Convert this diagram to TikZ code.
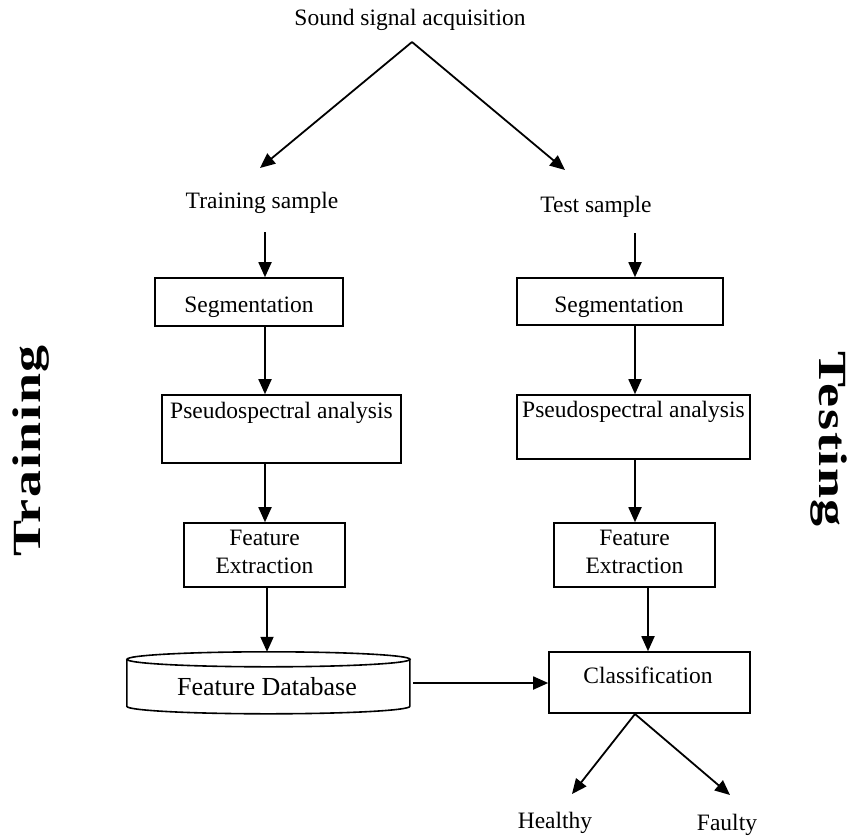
\documentclass[tikz,border=0pt]{standalone}
\usepackage{fontspec}
\setmainfont{Liberation Serif}
\newfontfamily\sidefont[LetterSpace=3]{Liberation Serif}
\usetikzlibrary{arrows.meta}
\begin{document}
\begin{tikzpicture}[x=1pt,y=-1pt,
  box/.style={draw, line width=1.6pt, inner sep=0pt},
  txt/.style={font=\fontsize{23.5}{26}\selectfont, anchor=base, inner sep=0pt},
  arr/.style={line width=1.8pt, -{Triangle[length=15pt,width=13pt]}},
  side/.style={font=\sidefont\fontsize{40}{42}\selectfont\bfseries, inner sep=0pt}]
\useasboundingbox (0,0) rectangle (854,836);
\coordinate (cL) at (265,0);
\coordinate (cL2) at (267,0);
\coordinate (cR) at (635,0);
\coordinate (cR2) at (648,0);

% top
\node[txt] (snd) at (410,25) {Sound signal acquisition};
\coordinate (apex) at (412,42);
\coordinate (tipL) at (260,168);
\coordinate (tipR) at (565,170);
\node[txt] (trs) at (262,208) {Training sample};
\node[txt] (tes) at (596,212) {Test sample};
\draw[arr] (apex) -- (tipL);
\draw[arr] (apex) -- (tipR);

% boxes left
\node[box, minimum width=188pt, minimum height=48pt] (segL) at (249,302) {};
\node[txt] (segLt) at (249,312) {Segmentation};
\node[box, minimum width=239pt, minimum height=68pt] (pseL) at (281.5,429) {};
\node[txt] (pseLt) at (281.5,418) {Pseudospectral analysis};
\node[box, minimum width=161pt, minimum height=64pt] (featL) at (264.5,555) {};
\node[txt] (featLa) at (264.5,545) {Feature};
\node[txt] (featLb) at (264.5,573) {Extraction};

% boxes right
\node[box, minimum width=206pt, minimum height=47pt] (segR) at (620,301.5) {};
\node[txt] (segRt) at (619,312) {Segmentation};
\node[box, minimum width=233pt, minimum height=64pt] (pseR) at (633.5,427) {};
\node[txt] (pseRt) at (633.5,417) {Pseudospectral analysis};
\node[box, minimum width=161pt, minimum height=64pt] (featR) at (634.5,555) {};
\node[txt] (featRa) at (634.5,545) {Feature};
\node[txt] (featRb) at (634.5,573) {Extraction};
\node[box, minimum width=201pt, minimum height=61pt] (cls) at (649.5,682.5) {};
\node[txt] (clst) at (648,683) {Classification};

% database cylinder
\node[minimum width=283pt, minimum height=62pt, inner sep=0pt] (db) at (268.5,683) {};
\draw[line width=1.6pt] (db.north) ++(0,7.5) ellipse [x radius=141.5pt, y radius=7.5pt];
\draw[line width=1.6pt] (db.north west) ++(0,7.5) -- ++(0,47)
  arc[start angle=180, end angle=360, x radius=141.5pt, y radius=7.5pt] -- ++(0,-47);
\node[txt, font=\fontsize{26}{28}\selectfont] (dbt) at (267,695) {Feature Database};

% vertical arrows
\draw[arr, shorten <=19pt] (trs.south -| cL) -- (segL.north -| cL);
\draw[arr] (segL.south -| cL) -- (pseL.north -| cL);
\draw[arr] (pseL.south -| cL) -- (featL.north -| cL);
\draw[arr] (featL.south -| cL2) -- (db.north -| cL2);
\draw[arr, shorten <=16pt] (tes.south -| cR) -- (segR.north -| cR);
\draw[arr] (segR.south -| cR) -- (pseR.north -| cR);
\draw[arr] (pseR.south -| cR) -- (featR.north -| cR);
\draw[arr] (featR.south -| cR2) -- (cls.north -| cR2);
\draw[arr, shorten <=3pt] (db.east) -- (cls.west |- db.east);

% outcomes
\coordinate (split) at (635,714);
\coordinate (tipH) at (572,794);
\coordinate (tipF) at (730,795);
\draw[arr] (split) -- (tipH);
\draw[arr] (split) -- (tipF);
\node[txt] (hl) at (555,828) {Healthy};
\node[txt] (ft) at (727,830) {Faulty};

% side labels
\node[side, rotate=90] (trn) at (31,451) {\scalebox{1.35}[1]{Training}};
\node[side, rotate=-90] (tst) at (829,439) {\scalebox{1.35}[1]{Testing}};
\end{tikzpicture}
\end{document}
